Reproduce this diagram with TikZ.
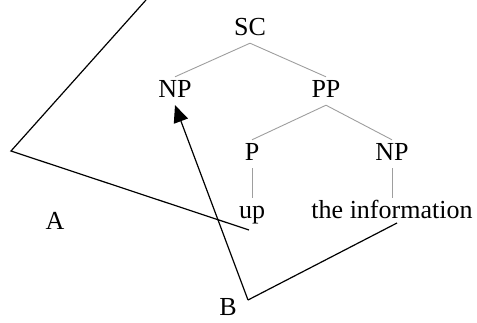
\documentclass[tikz,border=0pt]{standalone}
\usepackage{fontspec}
\setmainfont{Liberation Serif}
\usetikzlibrary{arrows.meta}
\begin{document}
\begin{tikzpicture}[x=1pt,y=-1pt,
  lbl/.style={font=\fontsize{26}{30}\selectfont, anchor=base, text height=17pt, text depth=5pt, inner sep=3pt},
  tree/.style={draw=black!38, line width=0.9pt},
  bline/.style={draw=black, line width=1.2pt, line join=miter},
  arr/.style={bline, -{Triangle[length=17pt,width=15pt]}}]
\useasboundingbox (0,0) rectangle (477,322);
\node[lbl] (SC) at (250,35) {SC};
\node[lbl] (NP) at (175,97) {NP};
\node[lbl] (PP) at (326,97) {PP};
\node[lbl] (P) at (252,160) {P};
\node[lbl] (NP2) at (392,160) {NP};
\node[lbl] (up) at (252,218) {up};
\node[lbl] (info) at (392,218) {the information};
\node[lbl] (A) at (55,229) {A};
\node[lbl, inner sep=1pt, text depth=0pt] (B) at (228,315.5) {B};
\draw[tree] (SC.south) -- (NP.north);
\draw[tree] (SC.south) -- (PP.north);
\draw[tree] (PP.south) -- (P.north);
\draw[tree] (PP.south) -- (NP2.north);
\draw[tree] (P.south) -- (up.north);
\draw[tree] (NP2.south) -- (info.north);
\coordinate (atop) at (146,0);
\coordinate (acorner) at (11,151);
\coordinate (aend) at (249,230);
\coordinate (bcorner) at (248,300);
\coordinate (bend) at (397,223);
\draw[bline] (atop) -- (acorner) -- (aend);
\draw[arr] (bcorner) -- (NP.south);
\draw[bline] (bcorner) -- (bend);
\end{tikzpicture}
\end{document}
